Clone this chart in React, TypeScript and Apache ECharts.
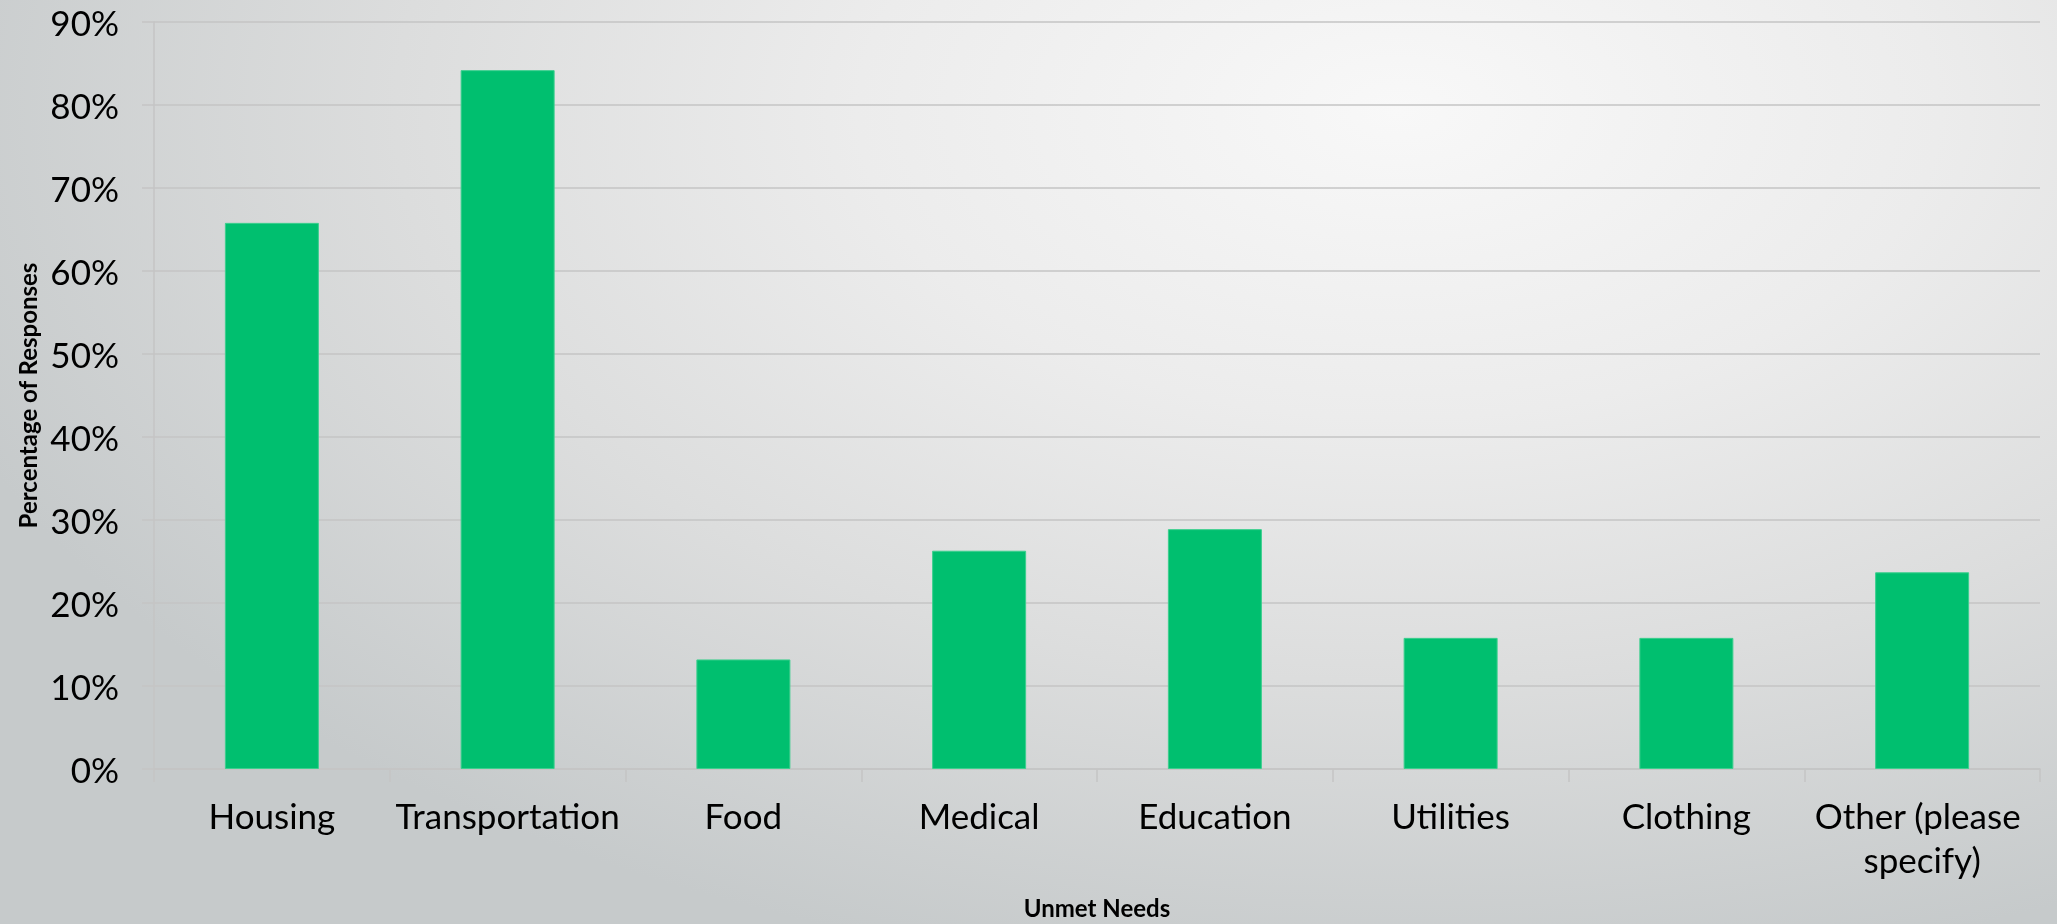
import React, { useEffect, useRef } from "react";
import * as echarts from "echarts";

const categories = [
  "Housing",
  "Transportation",
  "Food",
  "Medical",
  "Education",
  "Utilities",
  "Clothing",
  "Other (please specify)",
];
const responsePercent = [65.8, 84.2, 13.2, 26.3, 28.9, 15.8, 15.8, 23.7];
const yAxisTitle = "Percentage of Responses";
const xAxisTitle = "Unmet Needs";

const FONT = "Lato, 'Open Sans', sans-serif";

export default function App() {
  const ref = useRef<HTMLDivElement>(null);
  useEffect(() => {
    if (!ref.current) return;
    const chart = echarts.init(ref.current, null, { renderer: "svg" });
    chart.setOption({
      animation: false,
      backgroundColor: "transparent",
      grid: { left: 154, right: 17, top: 22, bottom: 154.5, containLabel: false },
      xAxis: {
        type: "category",
        data: categories,
        name: xAxisTitle,
        nameLocation: "middle",
        nameGap: 126,
        nameTextStyle: { fontFamily: FONT, fontWeight: "bold", fontSize: 24, color: "#000" },
        axisLine: { show: true, lineStyle: { color: "#c4c4c4", width: 1.5 } },
        axisTick: { show: true, length: 13, lineStyle: { color: "#c4c4c4", width: 1.5 } },
        axisLabel: {
          interval: 0,
          margin: 24,
          fontFamily: FONT,
          fontSize: 35,
          color: "#000",
          lineHeight: 44,
          width: 236,
          overflow: "break",
        },
      },
      yAxis: {
        type: "value",
        min: 0,
        max: 90,
        interval: 10,
        name: yAxisTitle,
        nameLocation: "middle",
        nameGap: 114,
        nameTextStyle: { fontFamily: FONT, fontWeight: "bold", fontSize: 24, color: "#000" },
        axisLine: { show: true, lineStyle: { color: "#c4c4c4", width: 1.5 } },
        axisTick: { show: true, length: 12, lineStyle: { color: "#c4c4c4", width: 1.5 } },
        splitLine: { show: true, lineStyle: { color: "#c4c4c4", width: 1.5 } },
        axisLabel: {
          margin: 35,
          fontFamily: FONT,
          fontSize: 35,
          color: "#000",
          formatter: "{value}%",
        },
      },
      series: [
        {
          type: "bar",
          data: responsePercent,
          barWidth: 94,
          itemStyle: { color: "#00bf6f", borderColor: "#3ccf8e", borderWidth: 1 },
        },
      ],
    });
    return () => chart.dispose();
  }, []);
  return (
    <div
      style={{
        position: "fixed",
        left: 0,
        top: 0,
        width: 2057,
        height: 924,
        background:
          "radial-gradient(ellipse 75% 95% at 68% 12%, #f8f8f8 0%, #ececec 35%, #dcdddd 65%, #c6cacb 100%)",
      }}
    >
      <div ref={ref} style={{ width: 2057, height: 924 }} />
    </div>
  );
}
